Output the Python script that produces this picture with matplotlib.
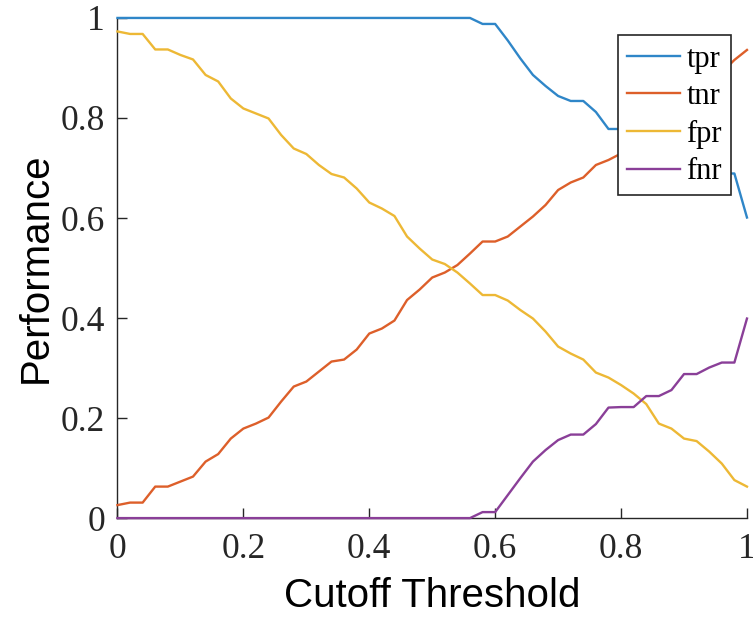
import matplotlib
matplotlib.use("Agg")
import matplotlib.pyplot as plt

thresholds = [0.00, 0.02, 0.04, 0.06, 0.08, 0.10, 0.12, 0.14, 0.16, 0.18,
              0.20, 0.22, 0.24, 0.26, 0.28, 0.30, 0.32, 0.34, 0.36, 0.38,
              0.40, 0.42, 0.44, 0.46, 0.48, 0.50, 0.52, 0.54, 0.56, 0.58,
              0.60, 0.62, 0.64, 0.66, 0.68, 0.70, 0.72, 0.74, 0.76, 0.78,
              0.80, 0.82, 0.84, 0.86, 0.88, 0.90, 0.92, 0.94, 0.96, 0.98, 1.00]

tpr = [1.0] * 29 + [0.988, 0.988, 0.955, 0.919, 0.886, 0.864, 0.844, 0.834,
                    0.834, 0.812, 0.778, 0.778, 0.778, 0.756, 0.756, 0.744,
                    0.712, 0.712, 0.699, 0.689, 0.689, 0.601]

tnr = [0.026, 0.031, 0.031, 0.063, 0.063, 0.073, 0.083, 0.113, 0.128, 0.159,
       0.179, 0.189, 0.201, 0.233, 0.263, 0.273, 0.293, 0.313, 0.317, 0.337,
       0.369, 0.379, 0.395, 0.436, 0.457, 0.481, 0.491, 0.506, 0.529, 0.553,
       0.553, 0.563, 0.583, 0.603, 0.626, 0.656, 0.671, 0.681, 0.706, 0.716,
       0.729, 0.751, 0.772, 0.811, 0.821, 0.841, 0.846, 0.867, 0.891, 0.916,
       0.936]

fpr = [0.973, 0.968, 0.968, 0.937, 0.937, 0.926, 0.917, 0.886, 0.873, 0.839,
       0.819, 0.809, 0.799, 0.766, 0.739, 0.728, 0.706, 0.688, 0.681, 0.659,
       0.631, 0.619, 0.604, 0.563, 0.539, 0.517, 0.508, 0.491, 0.469, 0.446,
       0.446, 0.435, 0.416, 0.399, 0.373, 0.343, 0.329, 0.317, 0.291, 0.281,
       0.266, 0.249, 0.228, 0.189, 0.179, 0.159, 0.154, 0.133, 0.109, 0.076,
       0.063]

fnr = [0.0] * 29 + [0.012, 0.012, 0.046, 0.080, 0.113, 0.136, 0.156, 0.167,
                    0.167, 0.188, 0.221, 0.222, 0.222, 0.244, 0.244, 0.256,
                    0.288, 0.288, 0.301, 0.311, 0.311, 0.399]

series = [("tpr", tpr, "#2F86C8"), ("tnr", tnr, "#DD5F2A"),
          ("fpr", fpr, "#EDB835"), ("fnr", fnr, "#8A3F98")]
ticks = [0, 0.2, 0.4, 0.6, 0.8, 1]
tick_labels = ["0", "0.2", "0.4", "0.6", "0.8", "1"]

fig = plt.figure(figsize=(7.53, 6.19), dpi=100)
ax = fig.add_axes([0.156, 0.163, 0.836, 0.808])

for name, vals, col in series:
    ax.plot(thresholds, vals, color=col, lw=1.7, label=name, clip_on=False,
            zorder=3)

ax.set_xlim(0, 1)
ax.set_ylim(0, 1)
ax.set_xticks(ticks)
ax.set_xticklabels(tick_labels)
ax.set_yticks(ticks)
ax.set_yticklabels(tick_labels)

axcol = "#262626"
for s in ["top", "right"]:
    ax.spines[s].set_visible(False)
for s in ["left", "bottom"]:
    ax.spines[s].set_color(axcol)
    ax.spines[s].set_linewidth(1.0)
    ax.spines[s].set_zorder(2)

ax.tick_params(direction="in", length=7, width=1.0, color=axcol,
               labelcolor=axcol)
ax.tick_params(axis="x", pad=11)
ax.tick_params(axis="y", pad=9)
for lab in ax.get_xticklabels() + ax.get_yticklabels():
    lab.set_fontfamily("Liberation Serif")
    lab.set_fontsize(25.5)

ax.set_xlabel("Cutoff Threshold", fontfamily="Liberation Sans", fontsize=29,
              color="black", labelpad=8)
ax.set_ylabel("Performance", fontfamily="Liberation Sans", fontsize=29,
              color="black", labelpad=4)

leg = ax.legend(loc="upper right", bbox_to_anchor=(0.975, 0.965),
                borderaxespad=0, prop={"family": "Liberation Serif", "size": 22},
                handlelength=1.75, handletextpad=0.2, labelspacing=0.28,
                borderpad=0.3, fancybox=False, framealpha=1,
                edgecolor=axcol)
leg.get_frame().set_linewidth(1.2)
leg.set_zorder(5)

fig.savefig("out.png", dpi=100)
